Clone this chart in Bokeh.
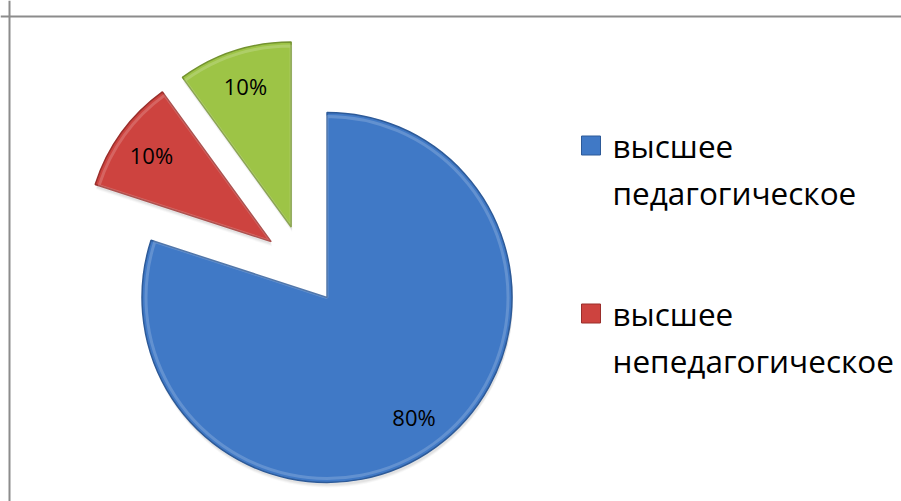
import numpy as np
from bokeh.plotting import figure
from bokeh.models import Range1d, Span, ColumnDataSource
from bokeh.core.properties import value
from bokeh.embed import file_html
from bokeh.resources import INLINE

# ---- data ----
categories = ["высшее педагогическое", "высшее непедагогическое", "третья категория"]
values = [80, 10, 10]
colors = ["#4079c6", "#cd433f", "#9dc446"]
edge_colors = ["#2d5a98", "#9a2e2b", "#73922f"]
legend_labels = [["высшее", "педагогическое"], ["высшее", "непедагогическое"]]

# ---- layout (pixels) ----
W, H = 901, 501
FONT = "Open Sans"

def px(x):
    return x

def py(y):
    return H - y

cx, cy = px(303), py(264.6)
R = 185
EXPLODE = 40
LABEL_POS = 0.8

vals = np.array(values, dtype=float)
frac = vals / vals.sum()
cum_end = np.cumsum(frac)
cum_start = cum_end - frac
a_hi = np.pi / 2 - 2 * np.pi * cum_start
a_lo = np.pi / 2 - 2 * np.pi * cum_end
mid = (a_hi + a_lo) / 2
vx = cx + EXPLODE * np.cos(mid)
vy = cy + EXPLODE * np.sin(mid)
lx = vx + LABEL_POS * R * np.cos(mid)
ly = vy + LABEL_POS * R * np.sin(mid)
pct = [f"{round(f * 100):d}%" for f in frac]

src = ColumnDataSource(dict(x=vx, y=vy, start=a_lo, end=a_hi, color=colors,
                            edge=edge_colors, lx=lx, ly=ly, pct=pct, cat=categories))

p = figure(width=W, height=H, output_backend="svg", toolbar_location=None,
           x_range=Range1d(0, W), y_range=Range1d(0, H), min_border=0,
           background_fill_color="white", border_fill_color="white")
p.axis.visible = False
p.grid.visible = False
p.outline_line_color = None

# soft shadow
for off, alpha in [(5, 0.06), (4, 0.08), (3, 0.10)]:
    p.wedge(x=vx + 1, y=vy - off, radius=R, start_angle=a_lo, end_angle=a_hi,
            fill_color="#808080", fill_alpha=alpha, line_color=None)

p.wedge(x="x", y="y", radius=R, start_angle="start", end_angle="end", source=src,
        fill_color="color", line_color="edge", line_width=1.5)
# inner bevel highlight
p.wedge(x="x", y="y", radius=R - 4, start_angle="start", end_angle="end", source=src,
        fill_color=None, line_color="white", line_alpha=0.18, line_width=3)

p.text(x="lx", y="ly", text="pct", source=src, text_align="center", text_baseline="middle",
       text_font=value(FONT), text_font_size="22px", text_color="#000000")

# legend (manual)
leg_top = [145, 313]
line_gap = 47
sq_x = px(590.5)
txt_x = px(612)
for i, lines in enumerate(legend_labels):
    p.rect(x=[sq_x], y=[py(leg_top[i])], width=19, height=19, fill_color=colors[i],
           line_color=edge_colors[i], line_width=1)
    ys = [py(leg_top[i] + k * line_gap) for k in range(len(lines))]
    p.text(x=[txt_x] * len(lines), y=ys, text=lines, text_align="left", text_baseline="middle",
           text_font=value(FONT), text_font_size="31.5px", text_color="#000000")

# chart area border
p.add_layout(Span(location=px(9), dimension="height", line_color="#8c8c8c", line_width=2))
p.add_layout(Span(location=py(16), dimension="width", line_color="#8c8c8c", line_width=2))

open("out.html", "w").write(file_html(p, INLINE))
